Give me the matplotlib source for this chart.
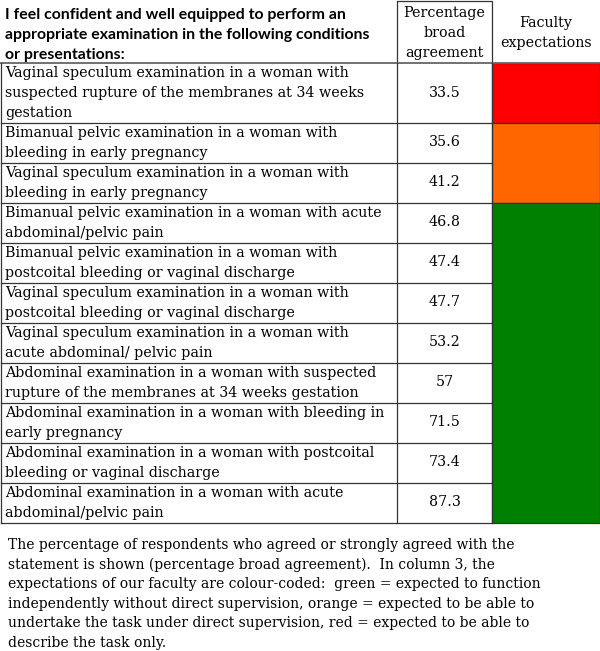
import matplotlib.pyplot as plt
from matplotlib.patches import Rectangle

# table content
header_c1 = ["I feel confident and well equipped to perform an",
             "appropriate examination in the following conditions",
             "or presentations:"]
header_c2 = ["Percentage", "broad", "agreement"]
header_c3 = ["Faculty", "expectations"]

conditions = [
    ["Vaginal speculum examination in a woman with",
     "suspected rupture of the membranes at 34 weeks",
     "gestation"],
    ["Bimanual pelvic examination in a woman with",
     "bleeding in early pregnancy"],
    ["Vaginal speculum examination in a woman with",
     "bleeding in early pregnancy"],
    ["Bimanual pelvic examination in a woman with acute",
     "abdominal/pelvic pain"],
    ["Bimanual pelvic examination in a woman with",
     "postcoital bleeding or vaginal discharge"],
    ["Vaginal speculum examination in a woman with",
     "postcoital bleeding or vaginal discharge"],
    ["Vaginal speculum examination in a woman with",
     "acute abdominal/ pelvic pain"],
    ["Abdominal examination in a woman with suspected",
     "rupture of the membranes at 34 weeks gestation"],
    ["Abdominal examination in a woman with bleeding in",
     "early pregnancy"],
    ["Abdominal examination in a woman with postcoital",
     "bleeding or vaginal discharge"],
    ["Abdominal examination in a woman with acute",
     "abdominal/pelvic pain"],
]
agreement = [33.5, 35.6, 41.2, 46.8, 47.4, 47.7, 53.2, 57, 71.5, 73.4, 87.3]
expectation = ["describe", "supervised", "supervised", "independent", "independent",
               "independent", "independent", "independent", "independent",
               "independent", "independent"]
exp_colours = {"describe": "#ff0000", "supervised": "#ff6600", "independent": "#008000"}

caption = [
    "The percentage of respondents who agreed or strongly agreed with the",
    "statement is shown (percentage broad agreement).  In column 3, the",
    "expectations of our faculty are colour-coded:  green = expected to function",
    "independently without direct supervision, orange = expected to be able to",
    "undertake the task under direct supervision, red = expected to be able to",
    "describe the task only.",
]

SERIF = "DejaVu Serif"
SANS = "Lato"
FS = 10.3
LINE_H = 19.5

fig = plt.figure(figsize=(6, 6.51), dpi=100)
ax = fig.add_axes([0, 0, 1, 1])
ax.set_xlim(0, 600)
ax.set_ylim(651, 0)
ax.axis("off")

x0, x1, x2, x3 = 1, 397, 492, 600
head_top, head_bot = 1, 63
lc = "#333333"
lw = 0.9

# header
for i, s in enumerate(header_c1):
    ax.text(5, 15 + 20 * i, s, fontsize=11.4, fontfamily=SANS, fontweight="bold",
            va="center", ha="left")
for i, s in enumerate(header_c2):
    ax.text((x1 + x2) / 2, 13 + 20 * i, s, fontsize=FS, fontfamily=SERIF,
            va="center", ha="center")
for i, s in enumerate(header_c3):
    ax.text((x2 + x3) / 2, 23 + 20 * i, s, fontsize=FS, fontfamily=SERIF,
            va="center", ha="center")
ax.plot([x1, x1, x2, x2], [head_bot, head_top, head_top, head_bot], color=lc, lw=lw)

# rows
tops = []
y = head_bot
for lines in conditions:
    tops.append(y)
    y += LINE_H * len(lines) + 1
bottom = y
bounds = tops + [bottom]

for i, (lines, val) in enumerate(zip(conditions, agreement)):
    top, bot = bounds[i], bounds[i + 1]
    for j, s in enumerate(lines):
        ax.text(5, top + 10.5 + 19.6 * j, s, fontsize=FS, fontfamily=SERIF,
                va="center", ha="left")
    ax.text((x1 + x2) / 2, (top + bot) / 2, f"{val:g}", fontsize=FS,
            fontfamily=SERIF, va="center", ha="center")

# merged colour cells
i = 0
while i < len(expectation):
    j = i
    while j + 1 < len(expectation) and expectation[j + 1] == expectation[i]:
        j += 1
    top, bot = bounds[i], bounds[j + 1]
    ax.add_patch(Rectangle((x2, top), x3 - x2, bot - top,
                           facecolor=exp_colours[expectation[i]],
                           edgecolor=lc, lw=lw))
    i = j + 1

# grid lines
ax.plot([x0, x3], [head_bot, head_bot], color="#666666", lw=1.3)
for yy in bounds[1:]:
    ax.plot([x0, x2], [yy, yy], color=lc, lw=lw)
for xx in (x0, x1, x2):
    ax.plot([xx, xx], [head_bot, bottom], color=lc, lw=lw)

# caption
for i, s in enumerate(caption):
    ax.text(8, 545 + 19.6 * i, s, fontsize=10.0, fontfamily=SERIF,
            va="center", ha="left")

fig.savefig("out.png", dpi=100)
